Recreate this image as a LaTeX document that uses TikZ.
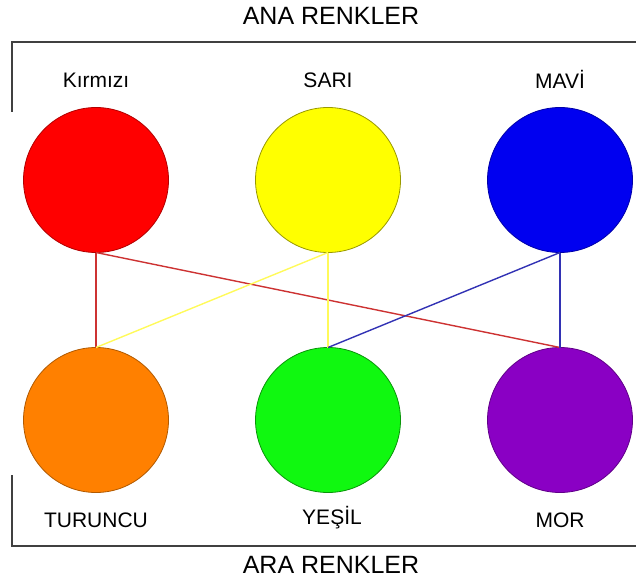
\documentclass[tikz,border=0pt]{standalone}
\usepackage{fontspec}
\setmainfont{Liberation Sans}
\usepackage{tikz}
\usetikzlibrary{positioning}
\usepackage{xcolor}
\definecolor{kirmizirenk}{HTML}{FF0000}
\definecolor{sarirenk}{HTML}{FFFF00}
\definecolor{mavirenk}{HTML}{0000F0}
\definecolor{turuncurenk}{HTML}{FF8000}
\definecolor{yesilrenk}{HTML}{10F810}
\definecolor{morrenk}{HTML}{8A00C4}
\definecolor{cerceve}{HTML}{404040}

\begin{document}
\begin{tikzpicture}[x=1pt, y=1pt,
      disc/.style={circle, minimum size=145pt, inner sep=0pt, outer sep=0pt,
                   line width=0.8pt},
      lbl/.style={font=\fontsize{21}{25}\selectfont, inner sep=0pt,
                  text height=15pt, text depth=0pt},
      title/.style={font=\fontsize{25}{30}\selectfont},
      link/.style={line width=1.4pt}
    ]
    \useasboundingbox (0,0) rectangle (636,587);
    % frame
    \draw[cerceve, line width=1.6pt] (636,545) -- (12,545) -- (12,475);
    \draw[cerceve, line width=1.6pt] (12,112) -- (12,41) -- (636,41);
    \node[title] (ana) at (331,571) {ANA RENKLER};
    \node[title] (ara) at (331,22) {ARA RENKLER};
    % primary colours
    \node[disc, fill=kirmizirenk, draw=kirmizirenk!70!black] (kirmizi) at (96,407) {};
    \node[disc, fill=sarirenk, draw=sarirenk!60!black, right=87pt of kirmizi] (sari) {};
    \node[disc, fill=mavirenk, draw=mavirenk!70!black, right=87pt of sari] (mavi) {};
    % secondary colours
    \node[disc, fill=turuncurenk, draw=turuncurenk!70!black, below=95pt of kirmizi] (turuncu) {};
    \node[disc, fill=yesilrenk, draw=yesilrenk!60!black, below=95pt of sari] (yesil) {};
    \node[disc, fill=morrenk, draw=morrenk!70!black, below=95pt of mavi] (mor) {};
    % labels
    \node[lbl, above=20pt of kirmizi] (lkirmizi) {Kırmızı};
    \node[lbl, above=20pt of sari] (lsari) {SARI};
    \node[lbl, above=19pt of mavi] (lmavi) {MAVİ};
    \node[lbl, below=20pt of turuncu] (lturuncu) {TURUNCU};
    \node[lbl, below=17pt of yesil, xshift=4pt] (lyesil) {YEŞİL};
    \node[lbl, below=20pt of mor] (lmor) {MOR};
    % mixing lines
    \draw[link, draw={rgb,255:red,205;green,50;blue,50}] (kirmizi.south) -- (turuncu.north);
    \draw[link, draw={rgb,255:red,205;green,50;blue,50}] (kirmizi.south) -- (mor.north);
    \draw[link, draw={rgb,255:red,255;green,250;blue,90}] (sari.south) -- (turuncu.north);
    \draw[link, draw={rgb,255:red,255;green,250;blue,90}] (sari.south) -- (yesil.north);
    \draw[link, draw={rgb,255:red,50;green,50;blue,180}] (mavi.south) -- (yesil.north);
    \draw[link, draw={rgb,255:red,50;green,50;blue,180}] (mavi.south) -- (mor.north);
  \end{tikzpicture}
\end{document}
